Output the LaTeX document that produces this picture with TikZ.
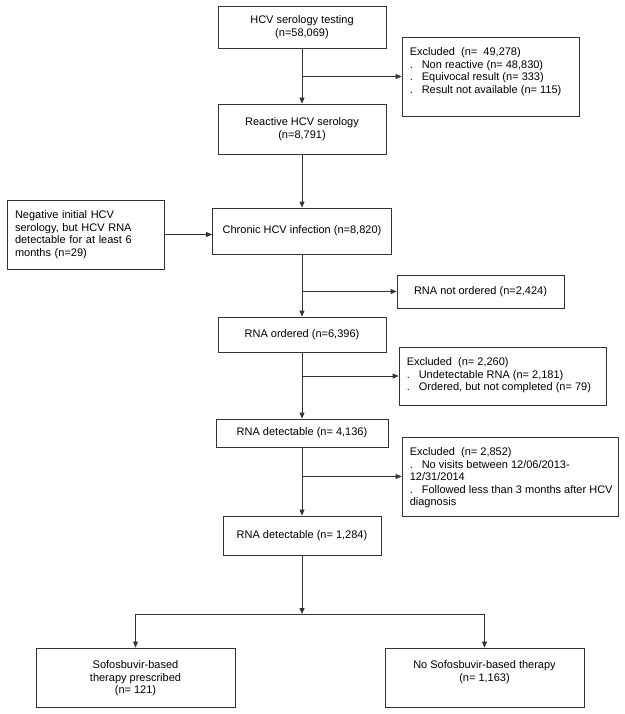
\documentclass[tikz,border=0pt]{standalone}
\usepackage{fontspec}
\setmainfont{Liberation Sans}
\usetikzlibrary{arrows.meta}
\tikzset{
    box/.style = {rectangle, draw=black!80, line width=0.8pt, align=center, inner sep=0pt},
    exbox/.style = {rectangle, draw=black!80, line width=0.8pt, inner sep=0pt},
    extext/.style = {anchor=north west, align=left, inner xsep=8pt, inner ysep=11pt},
    toptext/.style = {anchor=north, align=center, inner ysep=13pt},
    arr/.style = {-{Triangle[length=6pt,width=5pt]}, line width=0.8pt, draw=black!80},
}
\newcommand{\bul}{\makebox[12pt][l]{.}}

\begin{document}
\begin{tikzpicture}[x=1pt, y=-1pt, font=\fontsize{11}{12.5}\selectfont]
  \useasboundingbox (0,0) rectangle (624,714);

  % main column
  \node[box, minimum width=168pt, minimum height=42pt] (test) at (302,27) {HCV serology testing\\(n=58,069)};
  \node[box, minimum width=168pt, minimum height=50pt] (react) at (302,129) {Reactive HCV serology\\(n=8,791)};
  \node[box, minimum width=179pt, minimum height=46pt] (chron) at (302,231) {Chronic HCV infection (n=8,820)};
  \node[box, minimum width=168pt, minimum height=35pt] (ordered) at (302,334.5) {RNA ordered (n=6,396)};
  \node[box, minimum width=172pt, minimum height=28pt] (detA) at (302,433) {RNA detectable (n= 4,136)};
  \node[box, minimum width=158pt, minimum height=39pt] (detB) at (302,535.5) {RNA detectable (n= 1,284)};

  % side boxes
  \node[box, align=left, text width=141pt, inner xsep=8pt, minimum height=69pt] (neg) at (85.5,234.5)
    {Negative initial HCV\\serology, but HCV RNA\\detectable for at least 6\\months (n=29)};
  \node[exbox, minimum width=177pt, minimum height=79pt,
    label={[extext]north west:Excluded\ \ (n=\ \ 49,278)\\\bul Non reactive (n= 48,830)\\\bul Equivocal result (n= 333)\\\bul Result not available (n= 115)}] (exA) at (490.5,76.5) {};
  \node[box, minimum width=167pt, minimum height=33pt] (notord) at (480.5,291.5) {RNA not ordered (n=2,424)};
  \node[exbox, minimum width=207pt, minimum height=58pt,
    label={[extext]north west:Excluded\ \ (n= 2,260)\\\bul Undetectable RNA (n= 2,181)\\\bul Ordered, but not completed (n= 79)}] (exB) at (502.5,376) {};
  \node[exbox, minimum width=216pt, minimum height=79pt,
    label={[extext]north west:Excluded\ \ (n= 2,852)\\\bul No visits between 12/06/2013-\\12/31/2014\\\bul Followed less than 3 months after HCV\\diagnosis}] (exC) at (510,476.5) {};

  % therapy
  \node[exbox, minimum width=199pt, minimum height=59pt,
    label={[toptext]north:Sofosbuvir-based\\therapy prescribed\\(n= 121)}] (sof) at (135.5,677.5) {};
  \node[exbox, minimum width=199pt, minimum height=59pt,
    label={[toptext]north:No Sofosbuvir-based therapy\\(n= 1,163)}] (nosof) at (484.5,677.5) {};

  % connectors
  \draw[arr] (test) -- (react);
  \draw[arr] (test.south |- exA.west) -- (exA.west);
  \draw[arr] (react) -- (chron);
  \draw[arr] (neg.east) -- (neg.east -| chron.west);
  \draw[arr] (chron) -- (ordered);
  \draw[arr] (chron.south |- notord.west) -- (notord.west);
  \draw[arr] (ordered) -- (detA);
  \draw[arr] (ordered.south |- exB.west) -- (exB.west);
  \draw[arr] (detA) -- (detB);
  \draw[arr] (detA.south |- exC.west) -- (exC.west);
  \coordinate (split) at (302,614);
  \draw[arr] (detB.south) -- (split);
  \draw[arr] (split) -| (sof.north);
  \draw[arr] (split) -| (nosof.north);
\end{tikzpicture}
\end{document}
